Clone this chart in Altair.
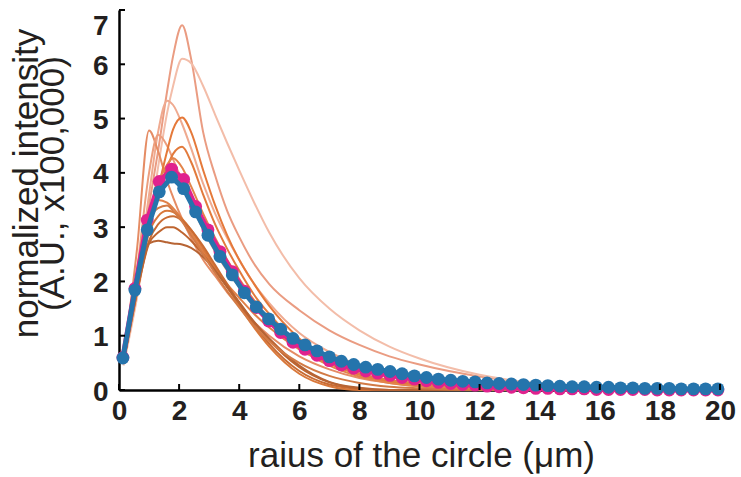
import altair as alt
import pandas as pd

# ---------------- data ----------------
grid = [0.15, 0.6, 1.0, 1.3, 1.6, 1.8, 2.1, 2.4, 2.8, 3.2, 3.6, 4.0, 4.5, 5.0,
        6.0, 7.0, 8.0, 9.0, 10.0, 12.0, 14.0, 17.0, 20.0]

cA = [0.5, 1.9, 3.4, 4.4, 5.5, 6.15, 6.72, 6.1, 4.75, 3.95, 3.3, 2.82, 2.32, 1.95, 1.47, 1.1, 0.83, 0.62, 0.47, 0.25, 0.12, 0.05, 0.02]
cB = [0.45, 1.7, 3.0, 4.1, 5.1, 5.6, 6.1, 6.02, 5.6, 5.07, 4.55, 4.05, 3.45, 2.9, 2.06, 1.5, 1.1, 0.8, 0.58, 0.28, 0.12, 0.04, 0.01]
cC = [0.5, 2.0, 3.6, 4.75, 5.33, 5.25, 4.9, 4.45, 3.8, 3.25, 2.8, 2.4, 1.95, 1.6, 1.05, 0.7, 0.45, 0.3, 0.2, 0.08, 0.03, 0.01, 0.0]
cD = [0.55, 2.6, 4.78, 4.4, 3.85, 3.55, 3.15, 2.8, 2.4, 2.1, 1.8, 1.55, 1.25, 1.0, 0.62, 0.38, 0.22, 0.13, 0.07, 0.02, 0.0, 0.0, 0.0]
cE = [0.5, 2.2, 4.0, 4.7, 4.5, 4.25, 3.85, 3.45, 2.95, 2.55, 2.2, 1.9, 1.55, 1.25, 0.8, 0.5, 0.3, 0.18, 0.1, 0.03, 0.01, 0.0, 0.0]
cF = [0.5, 1.8, 3.0, 3.7, 4.4, 4.8, 5.02, 4.75, 4.05, 3.4, 2.85, 2.4, 1.95, 1.55, 0.95, 0.55, 0.3, 0.16, 0.08, 0.02, 0.0, 0.0, 0.0]
cG = [0.5, 1.9, 3.0, 3.6, 4.1, 4.35, 4.48, 4.2, 3.6, 3.05, 2.6, 2.2, 1.75, 1.4, 0.85, 0.5, 0.28, 0.15, 0.08, 0.02, 0.0, 0.0, 0.0]
cH = [0.5, 2.0, 3.2, 3.8, 4.15, 4.27, 4.1, 3.75, 3.25, 2.8, 2.4, 2.05, 1.65, 1.3, 0.78, 0.45, 0.25, 0.13, 0.07, 0.02, 0.0, 0.0, 0.0]
cI = [0.5, 2.1, 3.2, 3.5, 3.45, 3.35, 3.15, 2.9, 2.55, 2.25, 1.95, 1.7, 1.4, 1.15, 0.75, 0.48, 0.3, 0.19, 0.12, 0.05, 0.02, 0.0, 0.0]
cJ = [0.5, 1.9, 2.9, 3.2, 3.3, 3.28, 3.15, 2.95, 2.6, 2.25, 1.9, 1.55, 1.15, 0.8, 0.3, 0.07, 0.0, 0.0, 0.0, 0.0, 0.0, 0.0, 0.0]
cK = [0.5, 1.8, 2.75, 3.05, 3.18, 3.2, 3.12, 2.95, 2.65, 2.3, 1.95, 1.6, 1.2, 0.85, 0.35, 0.1, 0.02, 0.0, 0.0, 0.0, 0.0, 0.0, 0.0]
cL = [0.5, 1.8, 2.7, 2.9, 3.0, 3.0, 2.9, 2.75, 2.5, 2.2, 1.9, 1.6, 1.25, 0.92, 0.42, 0.14, 0.03, 0.0, 0.0, 0.0, 0.0, 0.0, 0.0]
cM = [0.5, 1.9, 2.7, 2.75, 2.72, 2.7, 2.68, 2.62, 2.45, 2.2, 1.9, 1.62, 1.25, 0.95, 0.45, 0.15, 0.04, 0.0, 0.0, 0.0, 0.0, 0.0, 0.0]
cN = [0.5, 2.0, 3.1, 3.35, 3.4, 3.3, 3.1, 2.85, 2.5, 2.15, 1.82, 1.52, 1.18, 0.9, 0.5, 0.26, 0.13, 0.06, 0.03, 0.0, 0.0, 0.0, 0.0]

curve_names = ["A", "B", "C", "D", "E", "F", "G", "H", "I", "J", "K", "L", "M", "N"]
curve_values = [cA, cB, cC, cD, cE, cF, cG, cH, cI, cJ, cK, cL, cM, cN]
curve_colors = ["#EA9C82", "#F3BDA9", "#EFAA90", "#E58C64", "#EC9E7E", "#E5793A",
                "#E27A3C", "#E3844A", "#E08048", "#D9783A", "#C96B33", "#BF6530",
                "#B76434", "#D27A45"]

radius = [0.13, 0.53, 0.94, 1.34, 1.75, 2.15, 2.55, 2.96, 3.36, 3.77, 4.17, 4.57,
          4.98, 5.38, 5.79, 6.19, 6.59, 7.0, 7.4, 7.81, 8.21, 8.61, 9.02, 9.42,
          9.83, 10.23, 10.63, 11.04, 11.44, 11.85, 12.25, 12.65, 13.06, 13.46,
          13.87, 14.27, 14.67, 15.08, 15.48, 15.89, 16.29, 16.69, 17.1, 17.5,
          17.91, 18.31, 18.71, 19.12, 19.52, 19.93]

blue_vals = [0.59, 1.84, 2.95, 3.65, 3.92, 3.71, 3.28, 2.85, 2.46, 2.12, 1.79, 1.53,
             1.31, 1.12, 0.95, 0.83, 0.72, 0.61, 0.53, 0.47, 0.42, 0.38, 0.34, 0.30,
             0.26, 0.23, 0.20, 0.18, 0.16, 0.15, 0.13, 0.12, 0.11, 0.10, 0.09, 0.08,
             0.07, 0.06, 0.06, 0.05, 0.05, 0.04, 0.04, 0.03, 0.03, 0.03, 0.02, 0.02,
             0.02, 0.02]

pink_vals = [0.60, 1.87, 3.13, 3.84, 4.07, 3.88, 3.38, 2.95, 2.55, 2.18, 1.82, 1.52,
             1.27, 1.06, 0.88, 0.75, 0.64, 0.54, 0.46, 0.40, 0.35, 0.31, 0.27, 0.23,
             0.20, 0.17, 0.14, 0.12, 0.10, 0.09, 0.07, 0.06, 0.05, 0.04, 0.03, 0.03,
             0.02, 0.02, 0.02, 0.01, 0.01, 0.01, 0.01, 0.01, 0.0, 0.0, 0.0, 0.0,
             0.0, 0.0]

x_ticks = [0, 2, 4, 6, 8, 10, 12, 14, 16, 18, 20]
y_ticks = [0, 1, 2, 3, 4, 5, 6, 7]

# ---------------- tables ----------------
rows = []
for name, vals in zip(curve_names, curve_values):
    for gx, gy in zip(grid, vals):
        rows.append({"curve": name, "x": gx, "y": gy})
df_lines = pd.DataFrame(rows)
df_blue = pd.DataFrame({"x": radius, "y": blue_vals})
df_pink = pd.DataFrame({"x": radius, "y": pink_vals})
df_xt = pd.DataFrame({"v": x_ticks})
df_yt = pd.DataFrame({"v": y_ticks})

FONT = "Liberation Sans"

xscale = alt.Scale(domain=[0, 20], nice=False, zero=False)
yscale = alt.Scale(domain=[0, 7], nice=False, zero=False)

x_axis = alt.Axis(
    values=x_ticks, format="d", ticks=False, grid=False, domainColor="black", domainWidth=2.5,
    labelFont=FONT, labelFontWeight="bold", labelFontSize=28, labelColor="#231f20",
    labelPadding=7, labelFlush=False,
    title="raius of the circle (μm)", titleFont=FONT, titleFontSize=35,
    titleFontWeight="normal", titleColor="#231f20", titleX=302, titleY=76,
    titleAlign="center", titleBaseline="alphabetic",
)
y_axis = alt.Axis(
    values=y_ticks, format="d", ticks=False, grid=False, domainColor="black", domainWidth=2.5,
    labelFont=FONT, labelFontWeight="bold", labelFontSize=28, labelColor="#231f20",
    labelPadding=11, labelFlush=False, labelOffset=2,
    labelBaseline=alt.condition("datum.value == 7", alt.value("top"), alt.value("middle")),
    title=["normalized intensity", "(A.U., x100,000)"], titleFont=FONT,
    titleFontSize=35, titleLineHeight=26, titleFontWeight="normal",
    titleColor="#231f20", titleX=-93, titleY=173, titleAngle=270,
    titleAlign="center", titleBaseline="middle",
)

lines = alt.Chart(df_lines).mark_line(interpolate="monotone", strokeWidth=2).encode(
    x=alt.X("x:Q", scale=xscale, axis=x_axis),
    y=alt.Y("y:Q", scale=yscale, axis=y_axis),
    color=alt.Color("curve:N", scale=alt.Scale(domain=curve_names, range=curve_colors), legend=None),
)

pink_line = alt.Chart(df_pink).mark_line(color="#E0228E", strokeWidth=5).encode(
    x=alt.X("x:Q", scale=xscale), y=alt.Y("y:Q", scale=yscale))
pink_pts = alt.Chart(df_pink).mark_circle(color="#E0228E", size=165, opacity=1).encode(
    x=alt.X("x:Q", scale=xscale), y=alt.Y("y:Q", scale=yscale))
blue_line = alt.Chart(df_blue).mark_line(color="#2574AC", strokeWidth=5).encode(
    x=alt.X("x:Q", scale=xscale), y=alt.Y("y:Q", scale=yscale))
blue_pts = alt.Chart(df_blue).mark_circle(color="#2574AC", size=165, opacity=1).encode(
    x=alt.X("x:Q", scale=xscale), y=alt.Y("y:Q", scale=yscale))

yt = alt.Chart(df_yt).mark_rule(color="black", strokeWidth=2).encode(
    y=alt.Y("v:Q", scale=yscale), x=alt.value(0), x2=alt.value(6))
xt = alt.Chart(df_xt).mark_rule(color="black", strokeWidth=2).encode(
    x=alt.X("v:Q", scale=xscale), y=alt.value(374), y2=alt.value(380))

chart = alt.layer(lines, pink_line, pink_pts, blue_line, blue_pts, yt, xt).properties(
    width=601, height=380,
    padding={"left": 119, "top": 10, "right": 21, "bottom": 87},
    autosize=alt.AutoSizeParams(type="none"),
    background="white",
).configure_view(stroke=None)

chart.save("out.html", embed_options={"renderer": "svg", "actions": False})
